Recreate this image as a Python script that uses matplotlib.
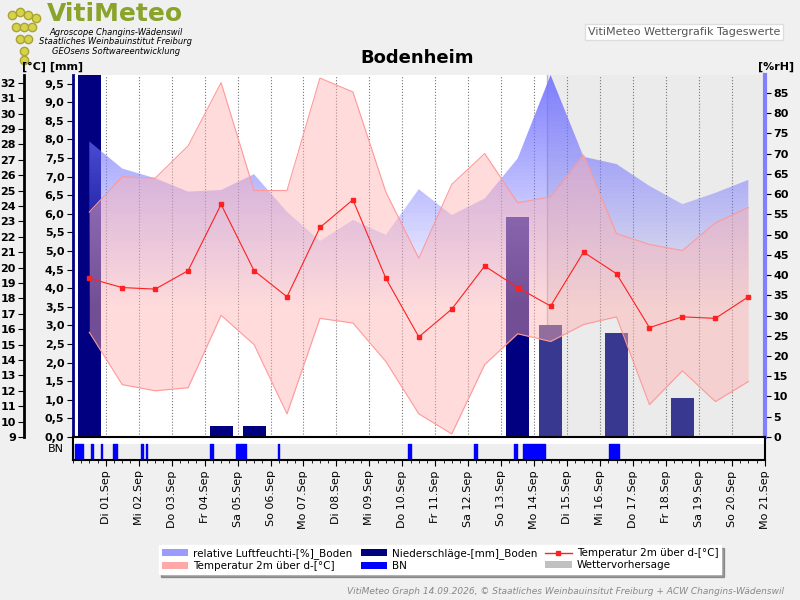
import matplotlib
matplotlib.use('Agg')
import matplotlib.pyplot as plt
import numpy as np
from matplotlib.patches import Patch, Polygon
from matplotlib.lines import Line2D
from matplotlib.ticker import FuncFormatter

days = ['Di 01.Sep', 'Mi 02.Sep', 'Do 03.Sep', 'Fr 04.Sep', 'Sa 05.Sep', 'So 06.Sep', 'Mo 07.Sep',
        'Di 08.Sep', 'Mi 09.Sep', 'Do 10.Sep', 'Fr 11.Sep', 'Sa 12.Sep', 'So 13.Sep', 'Mo 14.Sep',
        'Di 15.Sep', 'Mi 16.Sep', 'Do 17.Sep', 'Fr 18.Sep', 'Sa 19.Sep', 'So 20.Sep', 'Mo 21.Sep']

temp_mean = [19.3, 18.7, 18.6, 19.8, 24.1, 19.8, 18.1, 22.6, 24.4, 19.3, 15.5,
             17.3, 20.1, 18.7, 17.5, 21.0, 19.6, 16.1, 16.8, 16.7, 18.1]
temp_max = [23.6, 25.9, 25.8, 27.9, 32.0, 25.0, 25.0, 32.3, 31.4, 24.9, 20.6,
            25.4, 27.4, 24.2, 24.6, 27.3, 22.2, 21.5, 21.1, 22.9, 23.9]
temp_min = [15.8, 12.4, 12.0, 12.2, 16.9, 15.0, 10.5, 16.7, 16.4, 13.9, 10.5,
            9.2, 13.7, 15.7, 15.2, 16.3, 16.8, 11.1, 13.3, 11.3, 12.6]
rh = [73, 66.3, 63.9, 60.6, 61.0, 64.9, 55.6, 48.4, 53.6, 49.9, 61.2,
      54.8, 58.9, 68.8, 89.4, 69.2, 67.4, 62.0, 57.5, 60.3, 63.5]
precip = [9.8, 0, 0, 0, 0.3, 0.3, 0, 0, 0, 0, 0,
          0, 0, 5.9, 3.0, 0, 2.8, 0, 1.04, 0, 0]
bn_start = [0.06, 0.56, 0.85, 1.21, 2.08, 2.21, 4.15, 4.94, 6.24, 10.18, 12.18, 13.39, 13.45, 13.67, 16.27]
bn_len = [0.24, 0.04, 0.04, 0.12, 0.04, 0.03, 0.09, 0.33, 0.02, 0.09, 0.09, 0.03, 0.03, 0.66, 0.31]
forecast_start = 14.4

x = np.arange(21) + 0.5

fig = plt.figure(figsize=(8, 6), dpi=100, facecolor='#f0f0f0')
ax = fig.add_axes([0.091, 0.2717, 0.865, 0.6033])
ax.set_facecolor('white')
ax.set_xlim(0, 21)
ax.set_ylim(0, 9.73)
ax.axvspan(forecast_start, 21, color='#ebebeb', zorder=0, lw=0)
ax.axvline(forecast_start, color='#bbbbbb', lw=1, zorder=1)
for d in range(1, 21):
    ax.axvline(d, color='#777777', ls=':', lw=0.8, zorder=1)

cols = ['#000080' if xi < forecast_start else '#383890' for xi in x]
ax.bar(x, precip, width=0.7, color=cols, zorder=2)
ax.set_yticks(np.arange(0, 9.6, 0.5))
ax.yaxis.set_major_formatter(FuncFormatter(lambda v, p: ('%.1f' % v).replace('.', ',')))
ax.set_xticks([])
for s in ['top', 'right']:
    ax.spines[s].set_visible(False)
ax.spines['left'].set_color('#000080')
ax.spines['left'].set_linewidth(2)
ax.spines['bottom'].set_linewidth(2)

# relative humidity
axr = ax.twinx()
axr.set_ylim(0, 89.4)
axr.set_xlim(0, 21)
grad = np.zeros((100, 1, 4))
grad[:, 0, 0] = 0.45
grad[:, 0, 1] = 0.45
grad[:, 0, 2] = 1.0
grad[:, 0, 3] = np.clip(np.linspace(-0.5, 0.9, 100), 0, 1)
im = axr.imshow(grad, extent=[0, 21, 0, 89.4], origin='lower', aspect='auto', zorder=3)
poly = Polygon(list(zip(x, rh)) + [(20.5, 0), (0.5, 0)], closed=True, transform=axr.transData)
im.set_clip_path(poly)
axr.set_yticks(np.arange(0, 86, 5))
axr.spines['right'].set_color('#8080ff')
axr.spines['right'].set_linewidth(3)
for s in ['top', 'left', 'bottom']:
    axr.spines[s].set_visible(False)

# temperature
axt = ax.twinx()
axt.set_xlim(0, 21)
axt.set_ylim(9, 32.5)
axt.yaxis.tick_left()
axt.yaxis.set_label_position('left')
axt.spines['left'].set_position(('outward', 35))
axt.spines['left'].set_linewidth(2)
for s in ['top', 'right', 'bottom']:
    axt.spines[s].set_visible(False)
axt.set_yticks(np.arange(9, 33, 1))
axt.fill_between(x, temp_min, temp_max, color='#ffb0b0', alpha=0.45, lw=0, zorder=4)
axt.plot(x, temp_max, color='#ff9999', lw=0.8, zorder=4)
axt.plot(x, temp_min, color='#ff9999', lw=0.8, zorder=4)
axt.plot(x, temp_mean, color='#ff2020', lw=0.8, marker='s', ms=2.5, zorder=5)

for a in (ax, axr, axt):
    a.tick_params(axis='y', labelsize=8, length=4, pad=2)
    for lab in a.get_yticklabels():
        lab.set_fontweight('bold')

# BN strip
axb = fig.add_axes([0.091, 0.2333, 0.865, 0.0384])
axb.set_xlim(0, 21)
axb.set_ylim(0, 1)
axb.axhspan(0, 0.7, color='#eeeeee', lw=0)
axb.broken_barh(list(zip(bn_start, bn_len)), (0, 0.7), color='#0000ff')
axb.set_yticks([])
axb.set_ylabel('BN', rotation=0, fontsize=8, labelpad=12, va='center')
axb.set_xticks(np.arange(1, 22))
axb.set_xticklabels(days, rotation=90, fontsize=8)
axb.set_xticks(np.arange(0, 21.01, 0.25), minor=True)
axb.tick_params(axis='x', which='minor', length=2)
axb.tick_params(axis='x', which='major', length=4)
for s in axb.spines.values():
    s.set_linewidth(1.5)

# header
fig.text(0.058, 0.976, 'VitiMeteo', fontsize=18, fontweight='bold', color='#8aa32a', va='center')
fig.text(0.145, 0.946, 'Agroscope Changins-Wädenswil', fontsize=6, style='italic', ha='center', va='center')
fig.text(0.145, 0.930, 'Staatliches Weinbauinstitut Freiburg', fontsize=6, style='italic', ha='center', va='center')
fig.text(0.145, 0.914, 'GEOsens Softwareentwicklung', fontsize=6, style='italic', ha='center', va='center')
gx = [0.015, 0.025, 0.035, 0.045, 0.02, 0.03, 0.04, 0.025, 0.035, 0.03, 0.03]
gy = [0.975, 0.98, 0.975, 0.97, 0.955, 0.955, 0.955, 0.935, 0.935, 0.915, 0.9]
fig.add_artist(Line2D(gx, gy, ls='', marker='o', ms=6, color='#d6d24a', mec='#a9a335', transform=fig.transFigure))
fig.text(0.975, 0.947, 'VitiMeteo Wettergrafik Tageswerte', fontsize=8, color='#555555', ha='right', va='center',
         bbox=dict(facecolor='white', edgecolor='#dddddd', boxstyle='square,pad=0.25'))
fig.text(0.521, 0.903, 'Bodenheim', fontsize=13, fontweight='bold', ha='center', va='center')
fig.text(0.028, 0.889, '[°C] [mm]', fontsize=8, fontweight='bold', va='center')
fig.text(0.993, 0.889, '[%rH]', fontsize=8, fontweight='bold', va='center', ha='right')
fig.text(0.98, 0.015, 'VitiMeteo Graph 14.09.2026, © Staatliches Weinbauinsitut Freiburg + ACW Changins-Wädenswil',
         fontsize=6.5, style='italic', color='#888888', ha='right', va='center')

handles = [Patch(facecolor='#9a9aff', edgecolor='none'),
           Patch(facecolor='#ffa8a8', edgecolor='none'),
           Patch(facecolor='#000080', edgecolor='none'),
           Patch(facecolor='#0000ff', edgecolor='none'),
           Line2D([], [], color='#ff2020', marker='s', ms=2.5, lw=1),
           Patch(facecolor='#c0c0c0', edgecolor='none')]
labels = ['relative Luftfeuchti-[%]_Boden', 'Temperatur 2m über d-[°C]',
          'Niederschläge-[mm]_Boden', 'BN',
          'Temperatur 2m über d-[°C]', 'Wettervorhersage']
leg = fig.legend(handles, labels, ncol=3, loc='center', bbox_to_anchor=(0.55, 0.067), fontsize=7.5,
                 fancybox=False, shadow=True, framealpha=1, edgecolor='white', handlelength=2.5,
                 handletextpad=0.5, borderpad=0.3, labelspacing=0.2, columnspacing=0.8)

fig.savefig('out.png', dpi=100, facecolor=fig.get_facecolor())
